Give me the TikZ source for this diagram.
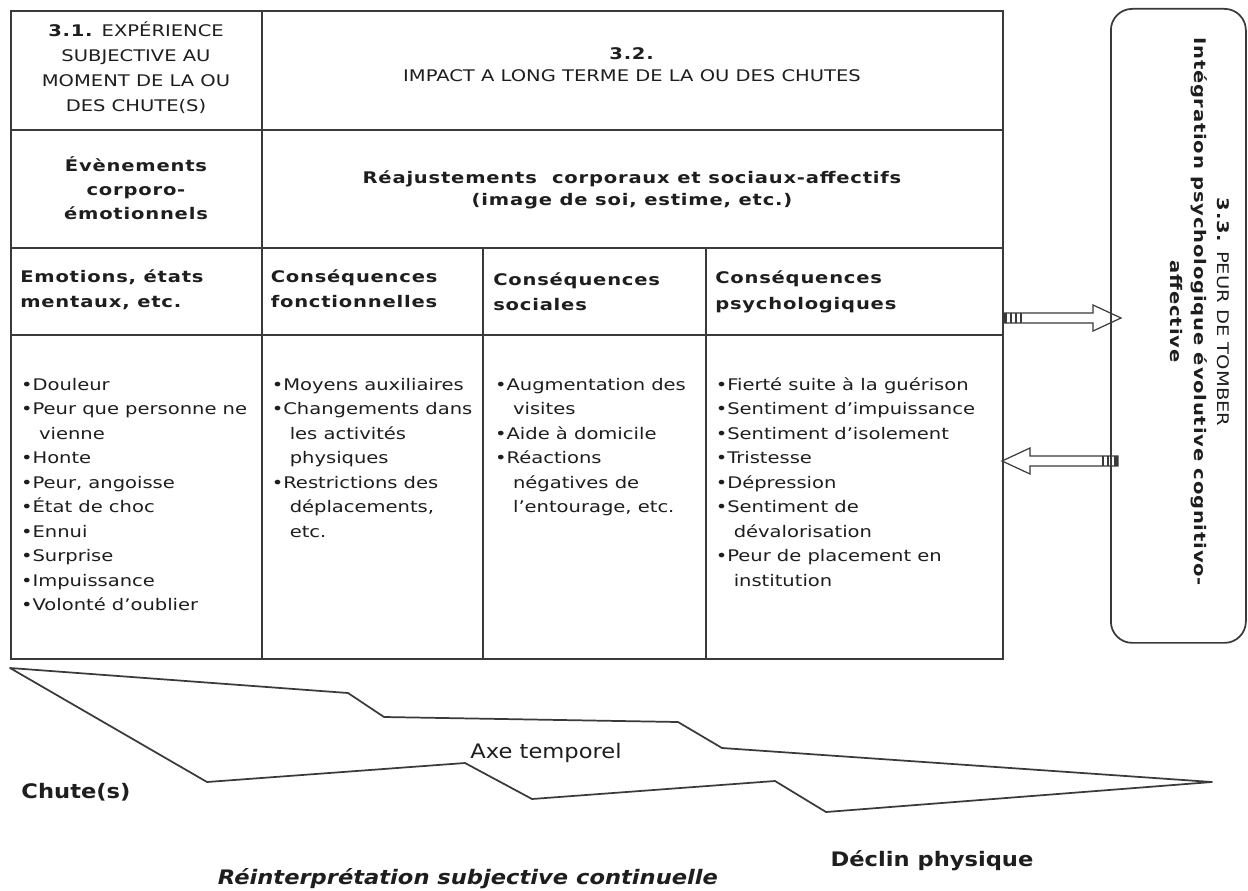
\documentclass[tikz,border=0pt]{standalone}
\usepackage{fontspec}
\setmainfont{DejaVu Sans}[FakeStretch=1.22, BoldFeatures={LetterSpace=5}]
\newfontfamily\botfont{DejaVu Sans}[FakeStretch=1.13]
\definecolor{ln}{HTML}{3A3A3A}
\definecolor{tx}{HTML}{1E1E1E}
\newcommand\fbody{\fontsize{12}{18.375}\selectfont}
\newcommand\fhead{\fontsize{12}{19.2}\selectfont\bfseries}
\newcommand\ftitle{\fontsize{12}{18.75}\selectfont}
\newcommand\fbot{\botfont\fontsize{15}{18}\selectfont}
\newcommand\ind{\hspace*{13.5pt}}
\tikzset{
  tline/.style={draw=ln, line width=1.3pt},
  txt/.style={inner sep=0pt, text=tx},
  lst/.style={txt, anchor=north west, align=left, font=\fbody},
  hdr/.style={txt, anchor=north west, align=left, font=\fhead},
  ctr/.style={txt, align=center},
  blk/.style={draw=ln, line width=0.9pt, line join=miter},
  axisline/.style={draw=ln, line width=1.3pt, line join=round},
}
\begin{document}
\begin{tikzpicture}[x=0.75pt,y=-0.75pt]
\fill[white] (0,0) rectangle (1248,891);
\useasboundingbox (0,0) rectangle (1248,891);

% ---------- table ----------
\node[tline, inner sep=0pt, minimum width=744pt, minimum height=486pt, anchor=north west] (tbl) at (10,10) {};
\draw[tline] (10,130) -- (1002,130);
\draw[tline] (10,248) -- (1002,248);
\draw[tline] (10,335) -- (1002,335);
\draw[tline] (262,10) -- (262,658);
\draw[tline] (483,248) -- (483,658);
\draw[tline] (706,248) -- (706,658);

% row 1
\node[ctr, font=\ftitle] (t31) at (136,69) {\strut\textbf{3.1.} EXPÉRIENCE\\ \strut SUBJECTIVE AU\\ \strut MOMENT DE LA OU\\ \strut DES CHUTE(S)};
\node[ctr, font=\fontsize{12}{16.5}\selectfont] (t32) at (632,66) {\strut\textbf{3.2.}\\ \strut IMPACT A LONG TERME DE LA OU DES CHUTES};

% row 2
\node[ctr, font=\fontsize{12}{18}\selectfont\bfseries] (ev) at (136,191) {\strut Évènements\\ \strut corporo-\\ \strut émotionnels};
\node[ctr, font=\fontsize{12}{16.5}\selectfont\bfseries] (rea) at (632,190) {\strut Réajustements\ \ corporaux et sociaux-affectifs\\ \strut (image de soi, estime, etc.)};

% row 3 headers
\node[hdr] (h1) at (20,264) {\strut Emotions, états\\ mentaux, etc.};
\node[hdr] (h2) at (270.5,264) {\strut Conséquences\\ fonctionnelles};
\node[hdr] (h3) at (493,267) {\strut Conséquences\\ sociales};
\node[hdr] (h4) at (715,265.4) {\strut Conséquences\\ psychologiques};

% row 4 lists
\node[lst] (l1) at (20.8,373) {\strut •Douleur\\ •Peur que personne ne\\ \ind vienne\\ •Honte\\ •Peur, angoisse\\ •État de choc\\ •Ennui\\ •Surprise\\ •Impuissance\\ •Volonté d’oublier};
\node[lst] (l2) at (271.5,373) {\strut •Moyens auxiliaires\\ •Changements dans\\ \ind les activités\\ \ind physiques\\ •Restrictions des\\ \ind déplacements,\\ \ind etc.};
\node[lst] (l3) at (494.8,373) {\strut •Augmentation des\\ \ind visites\\ •Aide à domicile\\ •Réactions\\ \ind négatives de\\ \ind l’entourage, etc.};
\node[lst] (l4) at (715.5,373) {\strut •Fierté suite à la guérison\\ •Sentiment d’impuissance\\ •Sentiment d’isolement\\ •Tristesse\\ •Dépression\\ •Sentiment de\\ \ind dévalorisation\\ •Peur de placement en\\ \ind institution};

% ---------- right box ----------
\node[draw=ln, line width=1.3pt, rounded corners=16pt, inner sep=0pt, minimum width=101.25pt, minimum height=475.5pt, anchor=north west] (fear) at (1110,8) {};
\node[ctr, rotate=-90, font=\fontsize{12}{17.6}\selectfont] (fearT) at (1199,312) {\strut\textbf{3.3.} PEUR DE TOMBER\\ \strut\textbf{Intégration psychologique évolutive cognitivo-}\\ \strut\textbf{affective}};

% ---------- block arrows ----------
\draw[blk] (1003,313) -- (1093,313) -- (1093,305) -- (1121,318) -- (1093,331) -- (1093,323) -- (1003,323) -- cycle;
\fill[ln] (1003,313) rectangle (1007,323);
\draw[blk] (1011,313) -- (1011,323) (1016,313) -- (1016,323) (1021,313) -- (1021,323);

\draw[blk] (1118,456) -- (1030,456) -- (1030,448) -- (1002,461) -- (1030,474) -- (1030,466) -- (1118,466) -- cycle;
\fill[ln] (1114,456) rectangle (1118,466);
\draw[blk] (1103,456) -- (1103,466) (1108,456) -- (1108,466);

% ---------- time axis shape ----------
\coordinate (A) at (10,668);
\coordinate (E) at (1212,782);
\draw[axisline] (A) -- (348,693) -- (384,717) -- (678,722) -- (722,748) -- (E)
  -- (826,812) -- (775,781) -- (532,799) -- (465,763) -- (207,782) -- cycle;

\node[txt, font=\fbot\bfseries] (chute) at (76,792) {Chute(s)};
\node[txt, font=\fbot] (axe) at (546,753) {Axe temporel};
\node[txt, font=\fbot\bfseries] (declin) at (932,861) {Déclin physique};
\node[txt, font=\fbot\bfseries\itshape] (reint) at (468,879) {Réinterprétation subjective continuelle};
\end{tikzpicture}
\end{document}
